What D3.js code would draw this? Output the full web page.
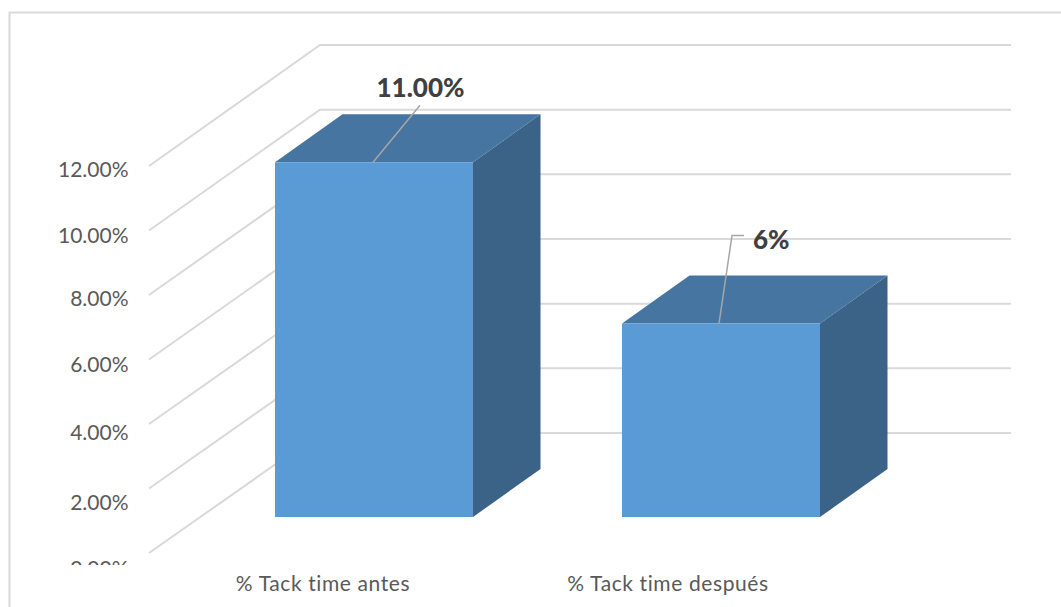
<!DOCTYPE html>
<html><head><meta charset="utf-8">
<script src="https://cdn.jsdelivr.net/npm/d3@7"></script>
<style>html,body{margin:0;padding:0;background:#fff;overflow:hidden}svg{display:block}text{font-family:Lato,"Open Sans",sans-serif}</style>
</head><body><svg id="c" width="1061" height="607"></svg>
<script>
const categories = ["% Tack time antes", "% Tack time después"];
const values = [0.11, 0.06];
const valueLabels = ["11.00%", "6%"];
const axisTicks = [0, 0.02, 0.04, 0.06, 0.08, 0.10, 0.12];

const svg = d3.select("#c");
const W = 1061, H = 607;
// frame: only the top and left edges fall inside the picture
svg.append("path").attr("fill","none").attr("stroke","#d9d9d9").attr("stroke-width",2)
  .attr("d",d3.line()([[9.5,H],[9.5,12.5],[W,12.5]]));

const yBack = d3.scaleLinear().domain([0,0.12]).range([433,45]);
const ySide = d3.scaleLinear().domain([0,0.12]).range([553,166]);
const yBar = d3.scaleLinear().domain([0,0.12]).range([517,130]);
// the reference's axis labels sit at slightly uneven baselines
const yLabel = d3.scaleLinear().domain(axisTicks).range([576,510,440,372,306,243,177]);
const xBar = d3.scaleBand().domain(categories).range([275,820]).paddingInner(0.4294).paddingOuter(0);
const X0 = 149, X1 = 320, X2 = 1011, DX = 67.5, DY = 48;

const grid = svg.append("g").attr("fill","none").attr("stroke","#d9d9d9");
axisTicks.forEach(t=>{
  grid.append("path").attr("stroke-width",2)
    .attr("d",d3.line()([[X0,ySide(t)],[X1,yBack(t)],[X2,yBack(t)]]));
});

// axis labels, the lowest one cut off by the plot's clip
svg.append("clipPath").attr("id","cl").append("rect").attr("x",0).attr("y",0).attr("width",W).attr("height",565);
svg.append("g").attr("clip-path","url(#cl)").selectAll("text").data(axisTicks).join("text")
  .attr("x",128.5).attr("y",d=>yLabel(d)).attr("text-anchor","end")
  .attr("font-size",21).attr("fill","#595959").text(d3.format(".2%"));

// bars
const bars = svg.append("g").selectAll("g").data(categories).join("g");
bars.each(function(c,i){
  const g = d3.select(this), x = xBar(c), w = xBar.bandwidth(), top = yBar(values[i]), base = yBar(0);
  g.append("path").attr("fill","#3a6387").attr("d",d3.line()([[x+w,top],[x+w+DX,top-DY],[x+w+DX,base-DY],[x+w,base]])+"Z");
  g.append("path").attr("fill","#4675a1").attr("d",d3.line()([[x,top],[x+DX,top-DY],[x+w+DX,top-DY],[x+w,top]])+"Z");
  g.append("rect").attr("x",x).attr("y",top).attr("width",w).attr("height",base-top).attr("fill","#5b9bd5");
});

// leader lines + value labels
const leaderOffsets = [[[-1,0],[46,-57]],[[-2,0],[11,-88],[23,-88]]];
const labelOffsets = [[46.5,-65],[32,-75]];
bars.each(function(c,i){
  const ax = xBar(c)+xBar.bandwidth()/2, ay = yBar(values[i]);
  d3.select(this).append("path").attr("fill","none").attr("stroke","#a6a6a6").attr("stroke-width",1.5)
    .attr("d",d3.line()(leaderOffsets[i].map(p=>[ax+p[0],ay+p[1]])));
  d3.select(this).append("text").attr("x",ax+labelOffsets[i][0]).attr("y",ay+labelOffsets[i][1])
    .attr("font-size",26).attr("font-weight",900).attr("fill","#404040")
    .attr("text-anchor",i===0?"middle":"start").text(valueLabels[i]);
});

// category labels
const xCat = d3.scaleOrdinal().domain(categories).range([323,668]);
svg.append("g").selectAll("text").data(categories).join("text")
  .attr("x",d=>xCat(d)).attr("y",591).attr("text-anchor","middle")
  .attr("font-size",21).attr("letter-spacing",0.6).attr("fill","#595959").text(d=>d);
</script></body></html>
